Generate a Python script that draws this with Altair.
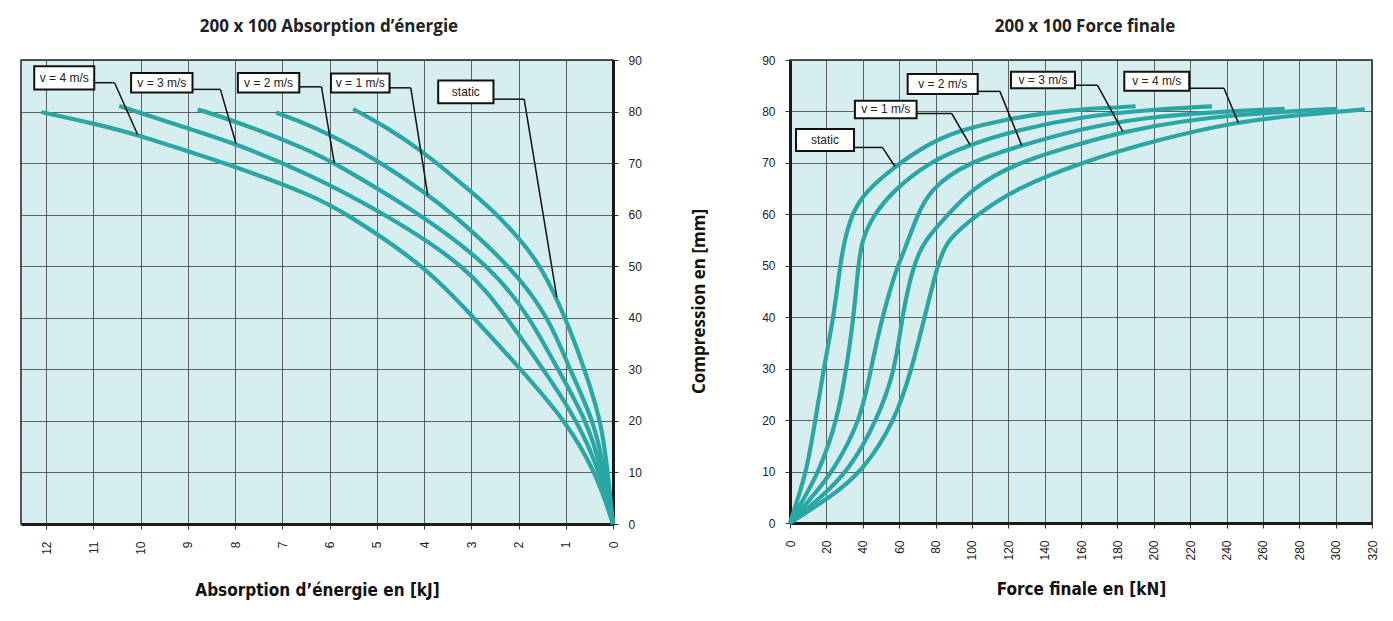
import altair as alt
import pandas as pd

# ---- series names -------------------------------------------------------
SERIES = ["static", "v = 1 m/s", "v = 2 m/s", "v = 3 m/s", "v = 4 m/s"]

# ---- energy absorption [kJ] vs compression [mm] -------------------------
energy_static = [0, 0.11, 0.25, 0.6, 1.0, 1.52, 1.95, 2.54, 3.2, 4.06, 4.8, 5.5]
comp_e_static = [0, 10, 20, 30, 40, 50, 55, 60.9, 66, 72.5, 77, 80.5]
energy_v1 = [0, 0.17, 0.4, 0.92, 1.35, 2.16, 3.49, 3.92, 5.0, 6.39, 7.13]
comp_e_v1 = [0, 10, 20, 30, 40, 50, 60.9, 63.8, 70.8, 77.4, 79.8]
energy_v2 = [0, 0.22, 0.55, 1.17, 1.75, 2.58, 4.2, 5.9, 6.39, 8.0, 8.79]
comp_e_v2 = [0, 10, 20, 30, 40, 50, 60.9, 70, 72.4, 78.2, 80.4]
energy_v3 = [0, 0.27, 0.75, 1.47, 2.25, 3.07, 4.97, 6.39, 7.98, 9.0, 10.45]
comp_e_v3 = [0, 10, 20, 30, 40, 50, 60.9, 67.7, 73.8, 76.7, 81.1]
energy_v4 = [0, 0.36, 1.0, 1.95, 2.95, 3.96, 5.76, 6.39, 7.98, 8.97, 10.06, 11.0, 12.1]
comp_e_v4 = [0, 10, 20, 30, 40, 50, 60.9, 63.8, 69.3, 72.2, 75.5, 77.7, 79.9]

# ---- end force [kN] vs compression [mm] ---------------------------------
force_static = [0, 4.5, 9, 14, 18.5, 24, 27.5, 30, 34, 41, 57.7, 74, 92, 114, 140, 162, 190]
comp_f_static = [0, 5, 10, 20, 30, 40, 50, 55, 60, 64.3, 69.3, 73.3, 76.2, 78.1, 79.7, 80.5, 81]
force_v1 = [0, 8, 16, 26, 31, 35, 37.5, 39.5, 46, 58, 76, 98, 126, 159, 196, 232]
comp_f_v1 = [0, 5, 10, 20, 30, 40, 50, 55, 60, 65, 70, 73.5, 76.5, 78.9, 80.3, 81]
force_v2 = [0, 12, 23.6, 39, 44.5, 50.6, 59, 62, 70, 77.5, 97, 127.4, 159, 196, 233, 272]
comp_f_v2 = [0, 5, 10, 20, 30, 40, 50, 52, 60, 65, 70, 73.4, 76.6, 78.9, 79.9, 80.5]
force_v3 = [0, 17, 32, 48, 58, 61.5, 67.6, 74, 87, 100, 124, 159, 184, 214, 251, 288, 301]
comp_f_v3 = [0, 5, 10, 20, 30, 40, 50, 55, 60, 65, 70, 73.7, 76.1, 78.1, 79.5, 80.3, 80.5]
force_v4 = [0, 22, 40, 58, 67, 74, 81, 86, 103, 124, 161, 203, 246, 279, 316]
comp_f_v4 = [0, 5, 10, 20, 30, 40, 50, 55, 60, 65, 70.2, 74.6, 78, 79.3, 80.4]

# ---- tick values ---------------------------------------------------------
energy_ticks = list(range(0, 13))
force_ticks = list(range(0, 321, 20))
comp_ticks = list(range(0, 91, 10))

# ---- callout boxes (data units): left, right, top, bottom ---------------
e_box_x1 = [3.7, 5.97, 7.94, 10.2, 12.25]
e_box_x2 = [2.53, 4.73, 6.64, 8.9, 10.98]
e_box_y1 = [86.0, 87.4, 87.5, 87.5, 88.8]
e_box_y2 = [81.6, 83.7, 83.7, 83.7, 84.3]
# leader: start (box edge), elbow, end (on curve)
e_lead_x = [(2.53, 1.88, 1.19), (4.73, 4.28, 3.92), (6.64, 6.17, 5.9), (8.9, 8.31, 7.98), (10.98, 10.55, 10.06)]
e_lead_y = [(82.4, 82.4, 44.0), (84.6, 84.6, 63.8), (84.8, 84.8, 70.0), (84.3, 84.3, 73.8), (85.6, 85.6, 75.5)]

f_box_x1 = [3.3, 35.7, 64.7, 121.5, 183.8]
f_box_x2 = [35.2, 69.6, 103.2, 156.7, 219.5]
f_box_y1 = [76.6, 82.1, 87.3, 87.7, 87.7]
f_box_y2 = [72.3, 78.7, 83.4, 84.5, 84.0]
f_lead_x = [(35.2, 50.8, 57.7), (69.6, 88.9, 99.0), (103.2, 115.4, 127.4), (156.7, 169.0, 183.0), (219.5, 238.6, 246.5)]
f_lead_y = [(73.0, 73.0, 69.3), (79.6, 79.6, 73.5), (83.9, 83.9, 73.4), (85.1, 85.1, 76.1), (84.5, 84.5, 77.8)]

TEAL = "#2aa6a4"
PANEL = "#d7eef0"
LABEL_FONT = "Liberation Sans"
TITLE_FONT = "Liberation Sans Narrow, DejaVu Sans Condensed, Liberation Sans"


def curve_frame(xs_list, ys_list):
    rows = []
    for name, xs, ys in zip(SERIES, xs_list, ys_list):
        for i, (x, y) in enumerate(zip(xs, ys)):
            rows.append({"serie": name, "i": i, "x": x, "y": y})
    return pd.DataFrame(rows)


def box_frame(x1, x2, y1, y2):
    return pd.DataFrame({
        "label": SERIES, "x1": x1, "x2": x2, "y1": y1, "y2": y2,
        "xm": [(a + b) / 2 for a, b in zip(x1, x2)],
        "ym": [(a + b) / 2 for a, b in zip(y1, y2)],
    })


def leader_frame(lx, ly):
    rows = []
    for (xa, xb, xc), (ya, yb, yc) in zip(lx, ly):
        rows.append({"xa": xa, "xb": xb, "ya": ya, "yb": yb})
        rows.append({"xa": xb, "xb": xc, "ya": yb, "yb": yc})
    return pd.DataFrame(rows)


energy_df = curve_frame(
    [energy_static, energy_v1, energy_v2, energy_v3, energy_v4],
    [comp_e_static, comp_e_v1, comp_e_v2, comp_e_v3, comp_e_v4])
force_df = curve_frame(
    [force_static, force_v1, force_v2, force_v3, force_v4],
    [comp_f_static, comp_f_v1, comp_f_v2, comp_f_v3, comp_f_v4])

axis_common = dict(
    grid=True, gridColor="#3c3c3c", gridWidth=0.8, gridOpacity=1,
    domainColor="#1a1a1a", domainWidth=3,
    tickColor="#333", tickWidth=1, tickSize=5,
    labelFont=LABEL_FONT, labelFontSize=12, labelColor="#222",
    titleFontWeight="bold", titleColor="#111",
)


def panel(df, boxes, leaders, xdomain, xticks, xreverse, xtitle, yorient,
          ytitle, title, title_dx, x_title_pad, w, h):
    xaxis = alt.Axis(values=xticks, labelAngle=-90, labelPadding=12,
                     title=xtitle, titleFont=TITLE_FONT, titleFontSize=17,
                     titlePadding=x_title_pad, **axis_common)
    if ytitle:
        yaxis = alt.Axis(values=comp_ticks, orient=yorient, labelPadding=10,
                         title=ytitle, titleFont="Open Sans", titleFontSize=17,
                         titlePadding=53, titleY=241, **axis_common)
    else:
        yaxis = alt.Axis(values=comp_ticks, orient=yorient, labelPadding=10,
                         title=None, **axis_common)

    def X(field):
        return alt.X(field, type="quantitative",
                     scale=alt.Scale(domain=xdomain, reverse=xreverse, nice=False, zero=False),
                     axis=xaxis)

    def Y(field):
        return alt.Y(field, type="quantitative",
                     scale=alt.Scale(domain=[0, 90], nice=False), axis=yaxis)

    curves = alt.Chart(df).mark_line(
        interpolate="basis", color=TEAL, strokeWidth=4.2, strokeCap="butt"
    ).encode(x=X("x"), y=Y("y"), detail="serie:N", order="i:Q")

    lead = alt.Chart(leaders).mark_rule(color="#111", strokeWidth=1.5).encode(
        x=X("xa"), x2="xb", y=Y("ya"), y2="yb")

    rect = alt.Chart(boxes).mark_rect(fill="white", stroke="#111", strokeWidth=2).encode(
        x=X("x1"), x2="x2", y=Y("y1"), y2="y2")

    text = alt.Chart(boxes).mark_text(
        font=LABEL_FONT, fontSize=12, color="#222", baseline="middle", align="center"
    ).encode(x=X("xm"), y=Y("ym"), text="label:N")

    return alt.layer(curves, lead, rect, text).properties(
        width=w, height=h,
        title=alt.TitleParams(title, font="Open Sans", fontSize=17, fontWeight="bold",
                              color="#222", offset=18, dx=title_dx, anchor="middle"),
    )


left = panel(energy_df, box_frame(e_box_x1, e_box_x2, e_box_y1, e_box_y2),
             leader_frame(e_lead_x, e_lead_y), [0, 12.53], energy_ticks, True,
             "Absorption d’énergie en [kJ]", "right", None,
             "200 x 100 Absorption d’énergie", 12, 28, 592, 464)

right = panel(force_df, box_frame(f_box_x1, f_box_x2, f_box_y1, f_box_y2),
              leader_frame(f_lead_x, f_lead_y), [0, 320], force_ticks, False,
              "Force finale en [kN]", "left", "Compression en [mm]",
              "200 x 100 Force finale", 4, 21, 582, 463)

chart = alt.hconcat(left, right, spacing=46).properties(
    padding={"left": 20, "top": 17, "right": 0, "bottom": 0},
    background="white",
).configure_view(fill=PANEL, stroke="#222", strokeWidth=1.5)

chart.save("out.html", embed_options={"renderer": "svg", "actions": False})
